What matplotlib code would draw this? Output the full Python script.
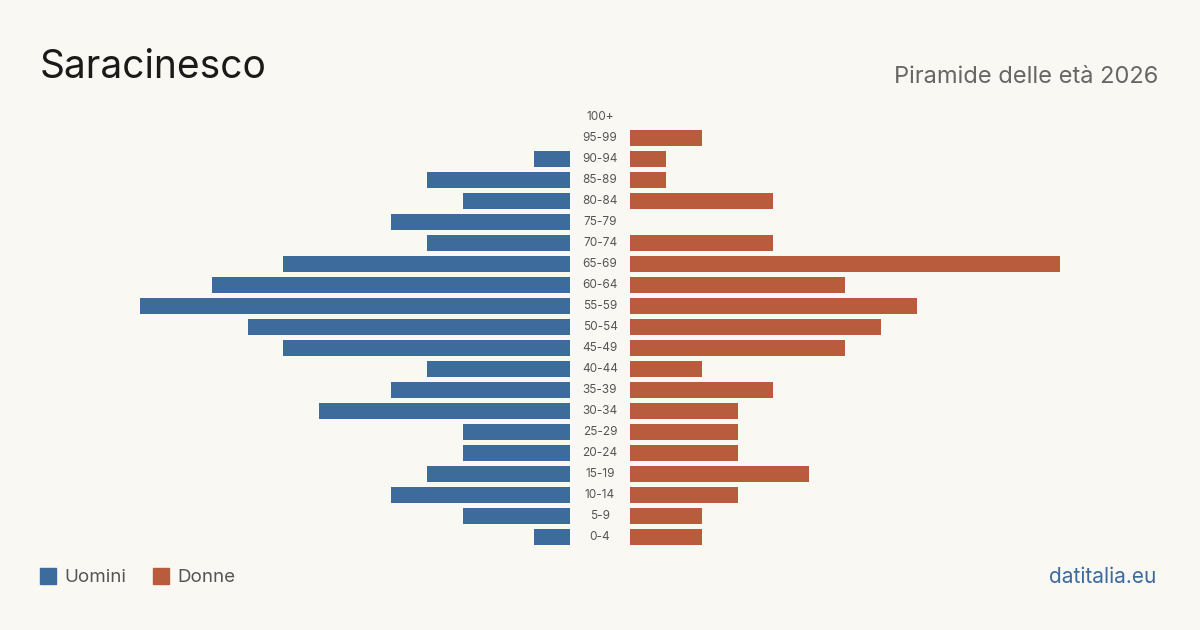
import matplotlib.pyplot as plt
import matplotlib.patches as mpatches

plt.rcParams['font.family'] = ['Inter', 'DejaVu Sans']

age_groups = ["0-4", "5-9", "10-14", "15-19", "20-24", "25-29", "30-34", "35-39",
              "40-44", "45-49", "50-54", "55-59", "60-64", "65-69", "70-74", "75-79",
              "80-84", "85-89", "90-94", "95-99", "100+"]
uomini = [1, 3, 5, 4, 3, 3, 7, 5, 4, 8, 9, 12, 10, 8, 4, 5, 3, 4, 1, 0, 0]
donne = [2, 2, 3, 5, 3, 3, 3, 4, 2, 6, 7, 8, 6, 12, 4, 0, 4, 1, 1, 2, 0]

bg = "#f9f8f3"
blue = "#3c6b9c"
orange = "#b95c3d"
W, H = 1200, 630

fig = plt.figure(figsize=(12, 6.3), dpi=100, facecolor=bg)

bottom = 1 - 547.5 / H
height = 441 / H
ax_l = fig.add_axes([140 / W, bottom, 430 / W, height])
ax_r = fig.add_axes([630 / W, bottom, 430 / W, height])

y = list(range(len(age_groups)))
ax_l.barh(y, uomini, height=0.8, color=blue)
ax_r.barh(y, donne, height=0.8, color=orange)
ax_l.set_xlim(12, 0)
ax_r.set_xlim(0, 12)
for ax in (ax_l, ax_r):
    ax.set_ylim(-0.5, len(age_groups) - 0.5)
    ax.axis("off")

# age labels in the gap between the two halves
for i, lab in enumerate(age_groups):
    fig.text(600 / W, bottom + (i + 0.5) / len(age_groups) * height, lab,
             ha="center", va="center", fontsize=8.5, color="#555555")

fig.text(40 / W, 1 - 67 / H, "Saracinesco", fontsize=28, color="#1a1a1a",
         ha="left", va="center")
fig.text(1158 / W, 1 - 77 / H, "Piramide delle età 2026", fontsize=17,
         color="#666666", ha="right", va="center")

# legend
for x0, col, lab in [(40, blue, "Uomini"), (153, orange, "Donne")]:
    fig.patches.append(mpatches.Rectangle((x0 / W, 1 - 584 / H), 16 / W, 16 / H,
                                          color=col, transform=fig.transFigure))
    fig.text((x0 + 24) / W, 1 - 577 / H, lab, fontsize=13.5, color="#555555",
             ha="left", va="center")

fig.text(1156 / W, 1 - 577 / H, "datitalia.eu", fontsize=15, color=blue,
         ha="right", va="center")

plt.savefig("out.png", dpi=100, facecolor=bg)
